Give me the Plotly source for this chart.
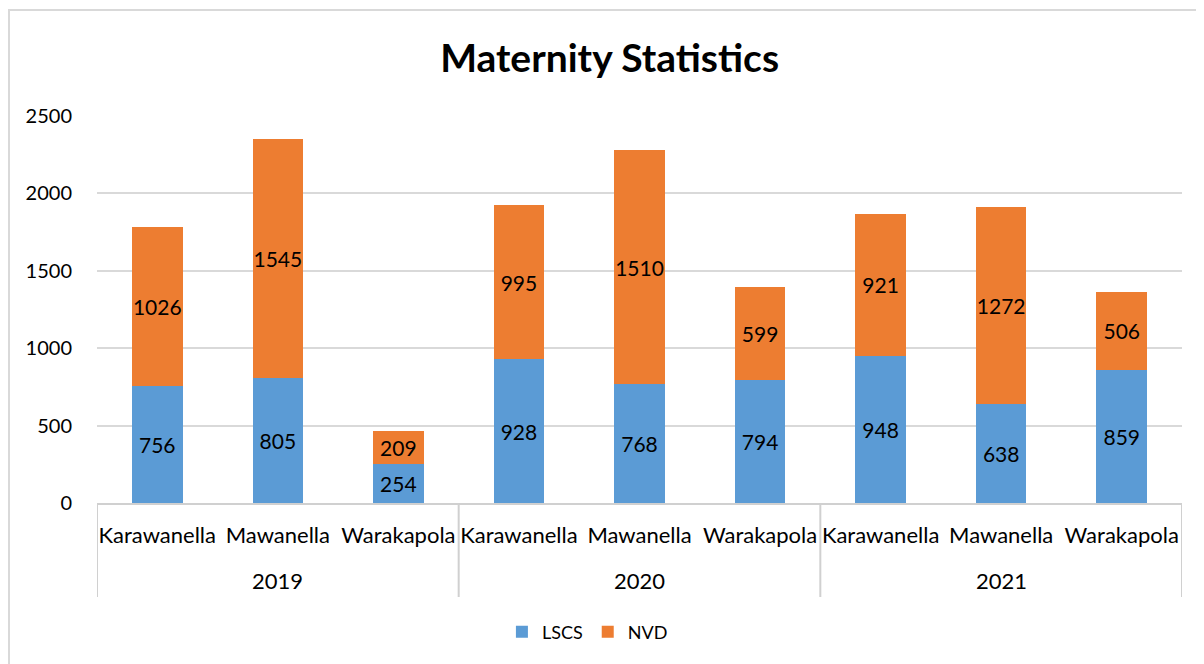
import plotly.graph_objects as go

years = ["2019", "2020", "2021"]
districts = ["Karawanella", "Mawanella", "Warakapola"]
lscs = [756, 805, 254, 928, 768, 794, 948, 638, 859]
nvd = [1026, 1545, 209, 995, 1510, 599, 921, 1272, 506]
y_ticks = [0, 500, 1000, 1500, 2000, 2500]

n_d = len(districts)
labels = [d for _ in years for d in districts]
xpos = list(range(len(labels)))

font_fam = "Lato, Open Sans, sans-serif"

fig = go.Figure()
fig.add_trace(go.Bar(
    x=xpos, y=lscs, name="LSCS", width=0.42,
    marker=dict(color="#5B9BD5", line=dict(width=0)),
    text=lscs, textposition="inside", insidetextanchor="middle", textangle=0,
    constraintext="none",
    textfont=dict(size=21, color="black", family=font_fam),
))
fig.add_trace(go.Bar(
    x=xpos, y=nvd, name="NVD", width=0.42,
    marker=dict(color="#ED7D31", line=dict(width=0)),
    text=nvd, textposition="inside", insidetextanchor="middle", textangle=0,
    constraintext="none",
    textfont=dict(size=21, color="black", family=font_fam),
))

PW, PH = 1085, 387
fig.update_layout(
    barmode="stack",
    width=1196, height=656,
    margin=dict(l=89, r=22, t=108, b=161),
    paper_bgcolor="white", plot_bgcolor="white",
    font=dict(family=font_fam, size=20, color="black"),
    title=dict(text="<b>Maternity Statistics</b>", x=0.503, xanchor="center",
               y=0.924, yanchor="middle", font=dict(size=39, family=font_fam, color="black")),
    showlegend=True,
    legend=dict(orientation="h", x=0.452, xanchor="center", y=-129 / PH, yanchor="middle",
                font=dict(size=18), traceorder="normal", itemwidth=30),
    uniformtext=dict(minsize=21, mode="show"),
)
fig.update_yaxes(range=[0, 2500], tickvals=y_ticks, showgrid=True, gridcolor="#D9D9D9",
                 gridwidth=1.5, zeroline=False, showline=False, ticks="",
                 ticklabelstandoff=24, tickfont=dict(size=20))
fig.update_xaxes(range=[-0.5, len(labels) - 0.5], tickvals=xpos, ticktext=labels,
                 showline=True, linecolor="#D0D0D0", linewidth=2, showgrid=False,
                 zeroline=False, ticks="", ticklabelstandoff=12, tickfont=dict(size=22))

# year group labels and dividers
for i, yr in enumerate(years):
    fig.add_annotation(x=i * n_d + (n_d - 1) / 2, xref="x", y=-77 / PH, yref="paper",
                       text=yr, showarrow=False, yanchor="middle",
                       font=dict(size=22, family=font_fam, color="black"))
for i in range(len(years) + 1):
    xb = i * n_d - 0.5
    fig.add_shape(type="line", xref="x", yref="paper", x0=xb, x1=xb, y0=0, y1=-94 / PH,
                  line=dict(color="#D0D0D0", width=2))

fig.add_shape(type="rect", xref="paper", yref="paper",
              x0=(1 - 89) / PW, x1=1.2, y0=-0.6, y1=(503 - 10) / PH,
              line=dict(color="#D9D9D9", width=2), fillcolor="rgba(0,0,0,0)", layer="below")

fig.write_html("out.html")
